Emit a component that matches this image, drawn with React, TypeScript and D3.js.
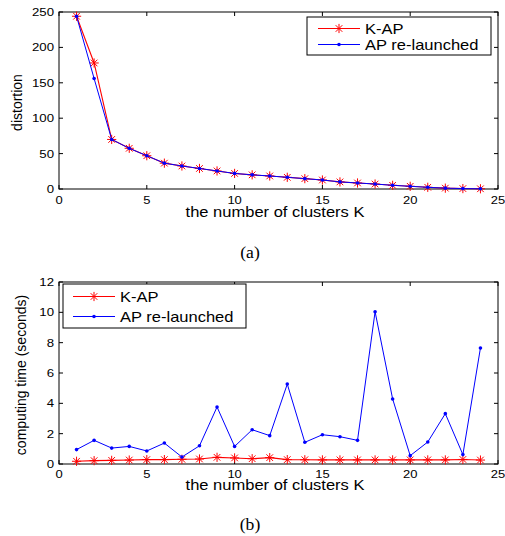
import React from "react";
import * as d3 from "d3";

const ks = [1,2,3,4,5,6,7,8,9,10,11,12,13,14,15,16,17,18,19,20,21,22,23,24];
const distKAP = [244,178,70,57.5,47,36.5,32.5,29,25.5,22,20,18.4,16.5,14.6,12.7,10,8.5,7,5.2,3.8,2.4,1.2,0.6,0.3];
const distAP = [244,156,70,57.5,47,36.5,32.5,29,25.5,22,20,18.4,16.5,14.6,12.7,10,8.5,7,5.2,3.8,2.4,1.2,0.6,0.3];
const timeKAP = [0.18,0.22,0.24,0.26,0.29,0.29,0.31,0.33,0.44,0.40,0.35,0.42,0.29,0.28,0.27,0.27,0.27,0.27,0.27,0.27,0.27,0.27,0.30,0.26];
const timeAP = [0.95,1.56,1.05,1.16,0.86,1.38,0.46,1.2,3.76,1.16,2.26,1.87,5.27,1.43,1.93,1.8,1.56,10.04,4.29,0.55,1.45,3.32,0.62,7.65];
const xTicks = [0,5,10,15,20,25];
const distTicks = [0,50,100,150,200,250];
const timeTicks = [0,2,4,6,8,10,12];
const seriesNames = ["K-AP", "AP re-launched"];

const FONT = "'Liberation Sans', Arial, Helvetica, sans-serif";
const RED = "#ff0000";
const BLUE = "#0000ff";

function starPath(cx: number, cy: number, r: number) {
  const d = r * 0.72;
  return `M${cx - r},${cy}L${cx + r},${cy}M${cx},${cy - r}L${cx},${cy + r}M${cx - d},${cy - d}L${cx + d},${cy + d}M${cx - d},${cy + d}L${cx + d},${cy - d}`;
}

function SText({ x, y, sx = 1.18, size = 14, anchor = "start", children, family = FONT }: any) {
  return (
    <text transform={`translate(${x},${y}) scale(${sx},1)`} fontSize={size} fontFamily={family} textAnchor={anchor} fill="#000">
      {children}
    </text>
  );
}

function Panel({ top, bottom, yMax, yTicks, kap, ap, ylabel, ylabelX, legend, caption, captionY, xTickY, xLabelY }: any) {
  const left = 59, right = 498;
  const x = d3.scaleLinear().domain([0, 25]).range([left, right]);
  const y = d3.scaleLinear().domain([0, yMax]).range([bottom, top]);
  const line = d3.line<number>().x((_, i) => x(ks[i])).y((v) => y(v));
  const tl = 4;
  return (
    <g>
      <rect x={left} y={top} width={right - left} height={bottom - top} fill="none" stroke="#000" strokeWidth={1} />
      {xTicks.map((t) => (
        <g key={"x" + t}>
          <line x1={x(t)} x2={x(t)} y1={bottom} y2={bottom - tl} stroke="#000" />
          <line x1={x(t)} x2={x(t)} y1={top} y2={top + tl} stroke="#000" />
          <SText x={x(t)} y={xTickY} size={11} sx={1.18} anchor="middle">{t}</SText>
        </g>
      ))}
      {yTicks.map((t: number) => (
        <g key={"y" + t}>
          <line x1={left} x2={left + tl} y1={y(t)} y2={y(t)} stroke="#000" />
          <line x1={right} x2={right - tl} y1={y(t)} y2={y(t)} stroke="#000" />
          <SText x={left - 5} y={y(t) + 4} size={11.5} sx={1.15} anchor="end">{t}</SText>
        </g>
      ))}
      <path d={line(kap) || ""} fill="none" stroke={RED} strokeWidth={1.1} />
      {kap.map((v: number, i: number) => (
        <path key={"s" + i} d={starPath(x(ks[i]), y(v), 4.6)} stroke={RED} strokeWidth={1} fill="none" />
      ))}
      <path d={line(ap) || ""} fill="none" stroke={BLUE} strokeWidth={1} />
      {ap.map((v: number, i: number) => (
        <circle key={"c" + i} cx={x(ks[i])} cy={y(v)} r={1.8} fill={BLUE} />
      ))}
      <text transform={`translate(${ylabelX},${(top + bottom) / 2 + 2}) rotate(-90)`} fontSize={14} fontFamily={FONT} textAnchor="middle">{ylabel}</text>
      <SText x={275} y={xLabelY} anchor="middle">the number of clusters K</SText>
      <SText x={250} y={captionY} size={16} sx={1.1} anchor="middle" family="'Liberation Serif', 'Times New Roman', serif">{caption}</SText>
      <g>
        <rect x={legend.x0} y={legend.y0} width={legend.x1 - legend.x0} height={legend.y1 - legend.y0} fill="#fff" stroke="#000" strokeWidth={1} />
        <line x1={legend.lx0} x2={legend.lx0 + 42} y1={legend.e1} y2={legend.e1} stroke={RED} strokeWidth={1.1} />
        <path d={starPath(legend.lx0 + 21, legend.e1, 4.6)} stroke={RED} strokeWidth={1} fill="none" />
        <SText x={legend.lx0 + 47} y={legend.e1 + 5}>{seriesNames[0]}</SText>
        <line x1={legend.lx0} x2={legend.lx0 + 42} y1={legend.e2} y2={legend.e2} stroke={BLUE} strokeWidth={1} />
        <circle cx={legend.lx0 + 21} cy={legend.e2} r={1.8} fill={BLUE} />
        <SText x={legend.lx0 + 47} y={legend.e2 + 5}>{seriesNames[1]}</SText>
      </g>
    </g>
  );
}

export default function App() {
  return (
    <svg width={505} height={536} style={{ position: "absolute", left: 0, top: 0, background: "#fff" }}>
      <rect width={505} height={536} fill="#fff" />
      <Panel top={12} bottom={189} yMax={250} yTicks={distTicks} kap={distKAP} ap={distAP}
        ylabel="distortion" ylabelX={21.5} caption="(a)" captionY={258} xTickY={204} xLabelY={217}
        legend={{ x0: 307, x1: 491, y0: 17, y1: 55, lx0: 318, e1: 28.5, e2: 44.5 }} />
      <Panel top={282} bottom={464} yMax={12} yTicks={timeTicks} kap={timeKAP} ap={timeAP}
        ylabel="computing time (seconds)" ylabelX={25.5} caption="(b)" captionY={530} xTickY={477.5} xLabelY={490}
        legend={{ x0: 63, x1: 246, y0: 284, y1: 328, lx0: 73, e1: 296.5, e2: 316.5 }} />
    </svg>
  );
}
